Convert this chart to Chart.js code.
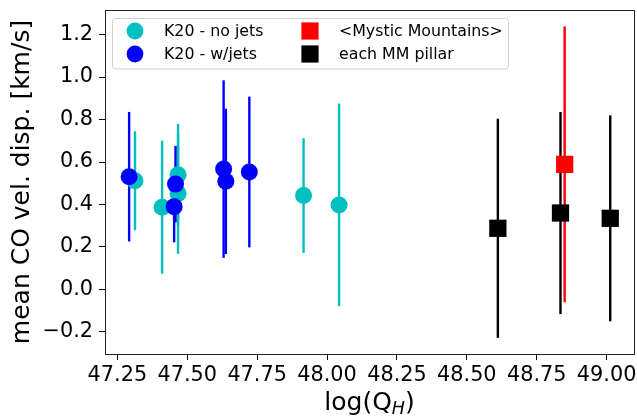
<!DOCTYPE html>
<html>
<head>
<meta charset="utf-8">
<script src="https://cdn.jsdelivr.net/npm/chart.js@4.4.0/dist/chart.umd.min.js"></script>
<style>
	html, body { margin: 0; padding: 0; background: #fff; }
	canvas { display: block; }
</style>
</head>
<body>
<canvas id="dispChart" width="637" height="419"></canvas>
<script>
// K20 clumps, no jets
const noJetsQ = [47.313, 47.410, 47.467, 47.467, 47.916, 48.043];
const noJetsDisp = [0.512, 0.387, 0.540, 0.452, 0.442, 0.398];
const noJetsErr = [0.233, 0.313, 0.240, 0.284, 0.270, 0.477];
// K20 clumps with jets
const jetsQ = [47.292, 47.458, 47.453, 47.630, 47.638, 47.722];
const jetsDisp = [0.531, 0.496, 0.390, 0.567, 0.509, 0.553];
const jetsErr = [0.305, 0.180, 0.168, 0.418, 0.342, 0.355];
// Mystic Mountains mean and single pillars
const mmQ = [48.850];
const mmDisp = [0.589];
const mmErr = [0.649];
const pillarQ = [48.611, 48.835, 49.013];
const pillarDisp = [0.288, 0.360, 0.335];
const pillarErr = [0.516, 0.476, 0.485];

const xTicks = [47.25, 47.5, 47.75, 48.0, 48.25, 48.5, 48.75, 49.0];
const yTicks = [-0.2, 0.0, 0.2, 0.4, 0.6, 0.8, 1.0, 1.2];

const FONT = 'DejaVu Sans';

function pairs(xs, ys) {
	return xs.map((x, i) => ({x: x, y: ys[i]}));
}

function noPadding(scale) {
	scale.paddingLeft = 0;
	scale.paddingRight = 0;
	scale.paddingTop = 0;
	scale.paddingBottom = 0;
}

// vertical error bars, drawn under the markers
const errorBars = {
	id: 'errorBars',
	beforeDatasetsDraw(chart) {
		const ctx = chart.ctx;
		const yScale = chart.scales.y;
		ctx.save();
		ctx.lineWidth = 2.4;
		chart.data.datasets.forEach((ds, i) => {
			const meta = chart.getDatasetMeta(i);
			ctx.strokeStyle = ds.backgroundColor;
			meta.data.forEach((pt, j) => {
				const v = ds.data[j].y;
				const e = ds.errors[j];
				ctx.beginPath();
				ctx.moveTo(pt.x, yScale.getPixelForValue(v + e));
				ctx.lineTo(pt.x, yScale.getPixelForValue(v - e));
				ctx.stroke();
			});
		});
		ctx.restore();
	}
};

// axes frame, axis titles and the boxed legend
const decorations = {
	id: 'decorations',
	afterDraw(chart) {
		const ctx = chart.ctx;
		const a = chart.chartArea;
		ctx.save();

		ctx.strokeStyle = '#222';
		ctx.lineWidth = 1;
		ctx.strokeRect(Math.round(a.left) + 0.5, Math.round(a.top) + 0.5,
			Math.round(a.right - a.left), Math.round(a.bottom - a.top));

		ctx.fillStyle = '#000';
		ctx.textBaseline = 'alphabetic';

		// log(Q_H)
		const big = '25px "' + FONT + '"';
		const sub = 'italic 17.5px "' + FONT + '"';
		ctx.font = big;
		const w1 = ctx.measureText('log(Q').width;
		const w3 = ctx.measureText(')').width;
		ctx.font = sub;
		const w2 = ctx.measureText('H').width;
		let x = (a.left + a.right) / 2 - (w1 + w2 + w3) / 2;
		const base = 410;
		ctx.textAlign = 'left';
		ctx.font = big;
		ctx.fillText('log(Q', x, base);
		x += w1;
		ctx.font = sub;
		ctx.fillText('H', x, base + 4);
		x += w2;
		ctx.font = big;
		ctx.fillText(')', x, base);

		// y axis title
		ctx.save();
		ctx.translate(29, (a.top + a.bottom) / 2);
		ctx.rotate(-Math.PI / 2);
		ctx.textAlign = 'center';
		ctx.font = big;
		ctx.fillText('mean CO vel. disp. [km/s]', 0, 0);
		ctx.restore();

		// legend
		ctx.fillStyle = 'rgba(255,255,255,0.8)';
		ctx.strokeStyle = '#d0d0d0';
		ctx.beginPath();
		ctx.roundRect(112.5, 18.5, 396, 50.5, 3);
		ctx.fill();
		ctx.stroke();

		const markX = [135, 310];
		const textX = [164, 339];
		const rowY = [31, 54];
		ctx.font = '15.8px "' + FONT + '"';
		ctx.textAlign = 'left';
		ctx.textBaseline = 'middle';
		chart.data.datasets.forEach((ds, i) => {
			const col = Math.floor(i / 2);
			const row = i % 2;
			ctx.fillStyle = ds.backgroundColor;
			if (ds.pointStyle === 'rect') {
				ctx.fillRect(markX[col] - 8.6, rowY[row] - 8.6, 17.2, 17.2);
			} else {
				ctx.beginPath();
				ctx.arc(markX[col], rowY[row], 8.4, 0, Math.PI * 2);
				ctx.fill();
			}
			ctx.fillStyle = '#000';
			ctx.fillText(ds.label, textX[col], rowY[row] + 1);
		});

		ctx.restore();
	}
};

const tickFont = {family: FONT, size: 20.8};

new Chart(document.getElementById('dispChart'), {
	type: 'scatter',
	data: {
		datasets: [
			{label: 'K20 - no jets', data: pairs(noJetsQ, noJetsDisp), errors: noJetsErr,
				backgroundColor: '#00bfbf', pointBackgroundColor: '#00bfbf', pointStyle: 'circle',
				pointRadius: 8.5, pointBorderWidth: 0, borderWidth: 0, order: 3},
			{label: 'K20 - w/jets', data: pairs(jetsQ, jetsDisp), errors: jetsErr,
				backgroundColor: '#0000ff', pointBackgroundColor: '#0000ff', pointStyle: 'circle',
				pointRadius: 8.5, pointBorderWidth: 0, borderWidth: 0, order: 2},
			{label: '<Mystic Mountains>', data: pairs(mmQ, mmDisp), errors: mmErr,
				backgroundColor: '#ff0000', pointBackgroundColor: '#ff0000', pointStyle: 'rect',
				pointRadius: 12.2, pointBorderWidth: 0, borderWidth: 0, order: 1},
			{label: 'each MM pillar', data: pairs(pillarQ, pillarDisp), errors: pillarErr,
				backgroundColor: '#000000', pointBackgroundColor: '#000000', pointStyle: 'rect',
				pointRadius: 12.2, pointBorderWidth: 0, borderWidth: 0, order: 0}
		]
	},
	options: {
		responsive: false,
		animation: false,
		devicePixelRatio: 1,
		events: [],
		layout: {autoPadding: false, padding: {top: 10, right: 3, left: 0, bottom: 0}},
		plugins: {
			legend: {display: false},
			tooltip: {enabled: false}
		},
		scales: {
			x: {
				type: 'linear',
				min: 47.2057,
				max: 49.098,
				afterBuildTicks: function (scale) {
					scale.ticks = xTicks.map(v => ({value: v}));
				},
				afterFit: function (scale) {
					scale.height = 65;
					noPadding(scale);
				},
				grid: {display: true, drawOnChartArea: false, drawTicks: true, tickLength: 6, tickColor: '#000', tickWidth: 1},
				border: {display: false},
				ticks: {
					font: tickFont,
					color: '#000',
					padding: 3,
					maxRotation: 0,
					autoSkip: false,
					callback: v => v.toFixed(2)
				}
			},
			y: {
				type: 'linear',
				min: -0.304,
				max: 1.316,
				afterBuildTicks: function (scale) {
					scale.ticks = yTicks.map(v => ({value: v}));
				},
				afterFit: function (scale) {
					scale.width = 105;
					noPadding(scale);
				},
				grid: {display: true, drawOnChartArea: false, drawTicks: true, tickLength: 6, tickColor: '#000', tickWidth: 1},
				border: {display: false},
				ticks: {
					font: tickFont,
					color: '#000',
					padding: 6,
					autoSkip: false,
					callback: v => (v < 0 ? '\u2212' : '') + Math.abs(v).toFixed(1)
				}
			}
		}
	},
	plugins: [errorBars, decorations]
});
</script>
</body>
</html>
